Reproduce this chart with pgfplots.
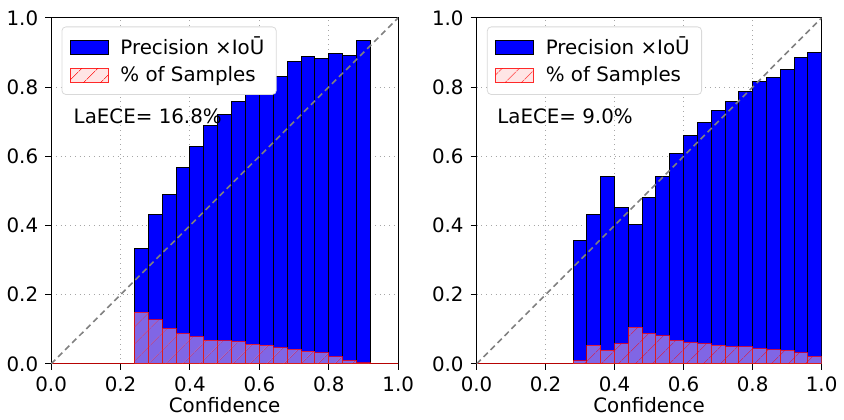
\documentclass[border=0pt]{standalone}
\usepackage{fontspec}
\setmainfont{DejaVu Sans}
\usepackage{pgfplots}
\pgfplotsset{compat=1.18}
\usetikzlibrary{patterns.meta}
\definecolor{mblue}{rgb}{0,0,1}
\definecolor{mpink}{rgb}{1,0.8,0.8}
\pgfplotsset{
  calib/.style={
    scale only axis, width=175pt, height=174.5pt,
    xmin=0, xmax=1, ymin=0, ymax=1,
    xtick={0,0.2,0.4,0.6,0.8,1.0}, ytick={0,0.2,0.4,0.6,0.8,1.0},
    xticklabels={0.0,0.2,0.4,0.6,0.8,1.0}, yticklabels={0.0,0.2,0.4,0.6,0.8,1.0},
    /pgf/number format/assume math mode=true,
    tick label style={font=\fontsize{10}{12}\selectfont},
    label style={font=\fontsize{10}{12}\selectfont},
    xlabel={Confidence}, xlabel style={yshift=4pt},
    tick align=outside, major tick length=3pt,
    xtick pos=lower, ytick pos=left,
    tick style={black, line width=0.5pt},
    axis line style={black, line width=0.5pt},
    grid=major, grid style={dotted, gray!70, line width=0.5pt},
    legend style={at={(0.03,0.975)}, anchor=north west, draw=gray!30, rounded corners=2pt,
      font=\fontsize{10}{12}\selectfont, row sep=0.5pt, inner xsep=4pt, inner ysep=3pt},
    legend cell align=left,
  },
  bluebar/.style={ybar interval, fill=mblue, draw=black, line width=0.5pt,
    legend image code/.code={\draw[sharp corners, fill=mblue, draw=black, line width=0.5pt] (0pt,-3.5pt) rectangle (19pt,3.5pt);}},
  redbar/.style={ybar interval, fill=mpink, fill opacity=0.5, draw=red, draw opacity=0.45, line width=0.5pt,
    postaction={pattern={Lines[angle=45,distance=6.5pt,line width=0.4pt]}, pattern color=red},
    legend image code/.code={\draw[sharp corners, fill=mpink, fill opacity=0.5, draw=red, draw opacity=0.45, line width=0.5pt,
      postaction={pattern={Lines[angle=45,distance=6.5pt,line width=0.4pt]}, pattern color=red}] (0pt,-3.5pt) rectangle (19pt,3.5pt);}},
}
\begin{document}
\begin{tikzpicture}
\path (-24.5pt,-25pt) rectangle (397.5pt,183.5pt);
\begin{axis}[calib, at={(0,0)}, anchor=south west]
\addplot[bluebar] coordinates {
(0.24,0.333) (0.28,0.432) (0.32,0.491) (0.36,0.568) (0.40,0.627) (0.44,0.689)
(0.48,0.722) (0.52,0.758) (0.56,0.781) (0.60,0.813) (0.64,0.831) (0.68,0.874)
(0.72,0.889) (0.76,0.882) (0.80,0.897) (0.84,0.892) (0.88,0.935) (0.92,0)};
\addlegendentry{\hspace*{4pt}Precision ×IoŪ}
\addplot[redbar] coordinates {
(0.00,0) (0.04,0) (0.08,0) (0.12,0) (0.16,0) (0.20,0)
(0.24,0.150) (0.28,0.127) (0.32,0.103) (0.36,0.088) (0.40,0.079) (0.44,0.069)
(0.48,0.067) (0.52,0.065) (0.56,0.057) (0.60,0.054) (0.64,0.047) (0.68,0.043)
(0.72,0.037) (0.76,0.032) (0.80,0.021) (0.84,0.010) (0.88,0.003) (0.92,0)
(0.96,0) (1.00,0)};
\addlegendentry{\hspace*{4pt}\% of Samples}
\addplot[gray, line width=0.8pt, dash pattern=on 3pt off 2pt, forget plot] coordinates {(0,0) (1,1)};
\node[anchor=west, font=\fontsize{10}{12}\selectfont] at (axis cs:0.045,0.716) {LaECE= 16.8\%};
\end{axis}
\begin{axis}[calib, at={(214.5pt,0)}, anchor=south west, width=174pt]
\addplot[bluebar] coordinates {
(0.28,0.356) (0.32,0.432) (0.36,0.541) (0.40,0.452) (0.44,0.402) (0.48,0.480)
(0.52,0.543) (0.56,0.608) (0.60,0.660) (0.64,0.697) (0.68,0.732) (0.72,0.758)
(0.76,0.786) (0.80,0.815) (0.84,0.827) (0.88,0.850) (0.92,0.884) (0.96,0.900) (1.00,0)};
\addlegendentry{\hspace*{4pt}Precision ×IoŪ}
\addplot[redbar] coordinates {
(0.00,0) (0.04,0) (0.08,0) (0.12,0) (0.16,0) (0.20,0) (0.24,0)
(0.28,0.009) (0.32,0.054) (0.36,0.040) (0.40,0.059) (0.44,0.106) (0.48,0.088)
(0.52,0.081) (0.56,0.068) (0.60,0.062) (0.64,0.059) (0.68,0.054) (0.72,0.050)
(0.76,0.050) (0.80,0.044) (0.84,0.041) (0.88,0.040) (0.92,0.032) (0.96,0.022) (1.00,0)};
\addlegendentry{\hspace*{4pt}\% of Samples}
\addplot[gray, line width=0.8pt, dash pattern=on 3pt off 2pt, forget plot] coordinates {(0,0) (1,1)};
\node[anchor=west, font=\fontsize{10}{12}\selectfont] at (axis cs:0.04,0.716) {LaECE= 9.0\%};
\end{axis}
\end{tikzpicture}
\end{document}
